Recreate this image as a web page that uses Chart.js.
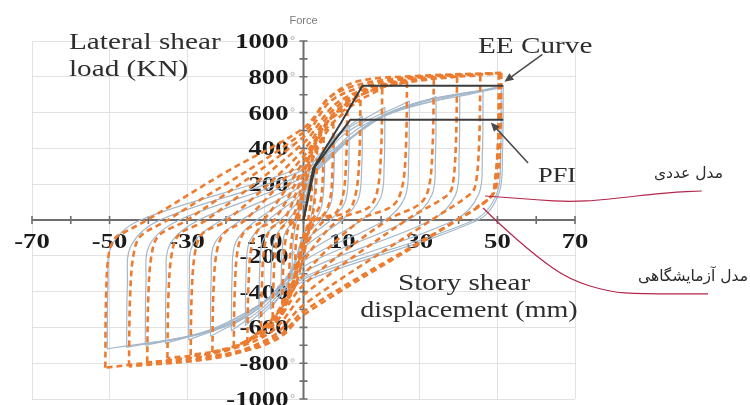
<!DOCTYPE html>
<html>
<head>
<meta charset="utf-8">
<script src="https://cdn.jsdelivr.net/npm/chart.js@4.4.1/dist/chart.umd.min.js"></script>
<style>
  html, body { margin: 0; padding: 0; background: #fff; }
  canvas { display: block; }
</style>
</head>
<body>
<canvas id="chart" width="750" height="405"></canvas>
<script>
// Axis tick labels (drawn on the centred cross axes)
const xTickLabels = [-70, -50, -30, -10, 10, 30, 50, 70];
const yTickLabels = [1000, 800, 600, 400, 200, -200, -400, -600, -800, -1000];
const xMinorTicks = [-70, -60, -50, -40, -30, -20, -10, 0, 10, 20, 30, 40, 50, 60, 70];
const yMinorTicks = [1000, 900, 800, 700, 600, 500, 400, 300, 200, 100, 0, -100, -200, -300, -400,
                     -500, -600, -700, -800, -900, -1000];

// Laboratory specimen: cyclic displacement (mm) vs lateral shear load (kN)
const labCurve = [
  [0,0],[1.2,150],[2.2,250],
  [2.0,120],[1.2,0],[0,-140],[-1.2,-230],[-2.2,-280],
  [-2.0,-140],[-1.2,0],[0,150],[1.5,290],[3.5,400],
  [3.3,220],[2.6,60],[1.8,-20],[0,-200],[-2,-360],[-3.8,-440],
  [-3.6,-250],[-2.9,-80],[-2,0],[0,180],[2.5,350],[5.2,465],
  [5.0,250],[4.3,90],[2.8,20],[1.5,-20],[0,-90],[-2.5,-330],[-5.5,-530],
  [-5.3,-300],[-4.7,-120],[-3.5,-30],[-2,0],[0,150],[3,390],[7.7,545],
  [7.5,300],[6.9,120],[5.2,30],[2.3,-10],[0,-110],[-3,-400],[-8,-605],
  [-7.7,-330],[-7.0,-130],[-5.5,-40],[-3,0],[0,220],[4,460],[11.3,615],
  [11.0,330],[10.2,140],[8.3,40],[3.5,0],[0,-140],[-4,-440],[-11,-655],
  [-10.7,-350],[-10.0,-140],[-8.3,-45],[-5,0],[0,260],[5,520],[14.7,670],
  [14.4,350],[13.5,150],[11.5,50],[5.5,0],[0,-170],[-5,-470],[-14.5,-688],
  [-14.2,-370],[-13.4,-150],[-11.5,-50],[-7.5,0],[0,290],[7,570],[20.3,735],
  [20.0,380],[19.0,160],[16.8,70],[9,0],[0,-230],[-6,-490],[-12,-640],[-18,-710],
  [-17.7,-380],[-16.9,-160],[-15,-60],[-10.3,0],[0,324],[8,590],[16,710],[26.7,772],
  [26.4,400],[25.4,180],[23,80],[14.7,0],[0,-307],[-8,-560],[-16,-690],[-23.5,-737],
  [-23.2,-390],[-22.3,-170],[-20.3,-70],[-15,0],[0,355],[9,620],[20,740],[33.6,790],
  [33.3,420],[32.3,180],[30,90],[21.7,0],[0,-363],[-8,-590],[-18,-710],[-29.1,-755],
  [-28.8,-400],[-27.9,-175],[-26,-75],[-19.6,0],[0,391],[9,640],[22,760],[39.6,800],
  [39.3,430],[38.5,200],[37.2,140],[26.5,0],[0,-419],[-8,-620],[-20,-730],[-35.1,-772],
  [-34.8,-410],[-33.9,-180],[-32,-80],[-25,0],[0,430],[9,660],[24,775],[45.6,808],
  [45.3,440],[44.4,200],[43,145],[33,0],[0,-475],[-8,-650],[-22,-760],[-40.3,-795],
  [-40,-420],[-39.1,-185],[-37.2,-85],[-30,0],[0,464],[8,680],[25,785],[50.4,818],
  [50.2,450],[49.4,220],[48.3,130],[39.5,0],[0,-510],[-6,-640],[-20,-760],[-45,-818],
  [-44.7,-420],[-43.8,-190],[-42,-90],[-35,0],[0,490],[7,690],[20,780],[50.4,820],
  [50.2,450],[49.4,220],[48.3,130],[39.7,0],[0,-530],[-6,-655],[-15,-730],[-34,-782],[-51.1,-825],
  [-50.9,-430],[-50.2,-190],[-48.5,-100],[-45.4,-60],[-40.3,0],[-20,268],[0,514],[7,690],[14,775],[30,805],[51,822],
  [50.8,450],[50.1,230],[48.8,140],[44.5,70]
];

// Numerical model: cyclic displacement (mm) vs lateral shear load (kN)
const numCurve = [
  [0,0],[1.5,180],[3,300],
  [2.7,120],[1.8,0],[0,-150],[-3,-330],
  [-2.7,-130],[-1.8,0],[0,170],[2.5,320],[5.5,400],
  [5.3,200],[4.6,70],[3,0],[0,-80],[-3,-300],[-5.8,-430],
  [-5.6,-210],[-4.9,-80],[-2.5,0],[0,90],[4,340],[8,470],
  [7.8,240],[7,90],[4.5,0],[0,-100],[-4,-350],[-8.5,-500],
  [-8.3,-250],[-7.4,-100],[-4,0],[0,110],[5,380],[11.8,530],
  [11.6,270],[10.7,100],[7,0],[0,-130],[-5,-390],[-11.5,-550],
  [-11.3,-280],[-10.4,-110],[-6,0],[0,140],[6,420],[15.2,580],
  [15,290],[14.1,115],[10,0],[0,-160],[-7,-430],[-15,-590],
  [-14.8,-300],[-13.9,-120],[-9,0],[0,160],[8,450],[21,630],
  [20.8,310],[19.9,125],[15,0],[0,-200],[-9,-460],[-18.6,-620],
  [-18.4,-310],[-17.5,-125],[-12,0],[0,180],[10,470],[27.3,665],
  [27.1,330],[26.2,130],[21,0],[0,-230],[-12,-500],[-24,-650],
  [-23.8,-325],[-22.9,-130],[-16,0],[0,200],[14,510],[34.2,690],
  [34,345],[33.1,140],[27,0],[0,-260],[-14,-530],[-29.6,-670],
  [-29.4,-335],[-28.5,-135],[-21,0],[0,220],[18,550],[40.3,705],
  [40.1,350],[39.2,140],[33,0],[0,-290],[-17,-560],[-35.6,-690],
  [-35.4,-345],[-34.5,-140],[-27,0],[0,240],[20,575],[46.3,720],
  [46.1,360],[45.2,145],[39,0],[0,-320],[-20,-590],[-40.8,-700],
  [-40.6,-350],[-39.7,-140],[-32,0],[0,260],[22,600],[51,740],
  [50.8,370],[49.9,150],[44,0],[0,-330],[-22,-600],[-45.6,-712],
  [-45.4,-355],[-44.5,-145],[-37,0],[0,280],[24,615],[51.5,750],
  [51.3,375],[50.4,150],[45,0],[0,-345],[-25,-620],[-50.6,-720],
  [-50.4,-360],[-49.5,-145],[-42,0],[0,300],[25,625],[50,740]
];

// Idealised envelopes
const eeCurve  = [[0,0],[2.5,290],[9.6,540],[15.2,750],[51.5,750]];
const pfiCurve = [[0,0],[3,300],[12.1,560],[51.5,560]];

// Break a cyclic path into half-cycles at each displacement reversal,
// so the smoothed line does not overshoot the peaks.
function halfCycles(path) {
  const out = [];
  let cur = [path[0]];
  for (let i = 1; i < path.length; i++) {
    cur.push(path[i]);
    if (i < path.length - 1) {
      const a = path[i - 1][0], b = path[i][0], c = path[i + 1][0];
      if ((b > a && b > c) || (b < a && b < c)) {
        out.push(cur);
        cur = [path[i]];
      }
    }
  }
  out.push(cur);
  return out;
}
const toXY = pts => pts.map(p => ({ x: p[0], y: p[1] }));

const datasets = [];
datasets.push({ data: toXY(eeCurve), borderColor: '#3b3b3b', borderWidth: 2, tension: 0 });
datasets.push({ data: toXY(pfiCurve), borderColor: '#3b3b3b', borderWidth: 2, tension: 0 });
halfCycles(labCurve).forEach(seg => datasets.push({
  data: toXY(seg), borderColor: '#ec7c30', borderWidth: 2.6, borderDash: [6, 4], tension: 0.35
}));
halfCycles(numCurve).forEach(seg => datasets.push({
  data: toXY(seg), borderColor: '#a4b8ca', borderWidth: 1.2, tension: 0.35
}));
datasets.forEach(d => { d.showLine = true; d.pointRadius = 0; d.fill = false; });

// Draws stretched serif text the way the figure's labels are set
function stretchedText(ctx, txt, x, y, font, align, sx, color) {
  ctx.save();
  ctx.font = font;
  ctx.fillStyle = color;
  ctx.textAlign = align;
  ctx.textBaseline = 'alphabetic';
  ctx.translate(x, y);
  ctx.scale(sx, 1);
  ctx.fillText(txt, 0, 0);
  ctx.restore();
}

function smoothPath(ctx, pts) {
  ctx.beginPath();
  ctx.moveTo(pts[0][0], pts[0][1]);
  for (let i = 1; i < pts.length - 1; i++) {
    const mx = (pts[i][0] + pts[i + 1][0]) / 2, my = (pts[i][1] + pts[i + 1][1]) / 2;
    ctx.quadraticCurveTo(pts[i][0], pts[i][1], mx, my);
  }
  const last = pts[pts.length - 1];
  ctx.lineTo(last[0], last[1]);
  ctx.stroke();
}

const crossAxes = {
  id: 'crossAxes',
  beforeDatasetsDraw(chart) {
    const { ctx, scales: { x: xs, y: ys } } = chart;
    const x0 = xs.getPixelForValue(0), y0 = ys.getPixelForValue(0);
    ctx.save();
    ctx.strokeStyle = '#6e6e6e';
    ctx.lineWidth = 2;
    ctx.beginPath();
    ctx.moveTo(xs.getPixelForValue(-70), y0);
    ctx.lineTo(xs.getPixelForValue(70), y0);
    ctx.moveTo(x0, ys.getPixelForValue(1000));
    ctx.lineTo(x0, ys.getPixelForValue(-1000));
    ctx.stroke();
    ctx.lineWidth = 1.6;
    ctx.beginPath();
    xMinorTicks.forEach(v => {
      const px = xs.getPixelForValue(v);
      ctx.moveTo(px, y0 - 4); ctx.lineTo(px, y0 + 4);
    });
    yMinorTicks.forEach(v => {
      const py = ys.getPixelForValue(v);
      ctx.moveTo(x0 - 4, py); ctx.lineTo(x0 + 4, py);
    });
    ctx.stroke();

    const tickFont = 'bold 21px "Liberation Serif", "Times New Roman", serif';
    xTickLabels.forEach(v => {
      stretchedText(ctx, String(v), xs.getPixelForValue(v), y0 + 28, tickFont, 'center', 1.27, '#1a1a1a');
    });
    yTickLabels.forEach(v => {
      const py = ys.getPixelForValue(v);
      stretchedText(ctx, String(v), x0 - 15, py + 7, tickFont, 'right', 1.27, '#1a1a1a');
      ctx.beginPath();
      ctx.strokeStyle = '#b4b4b4';
      ctx.lineWidth = 1;
      ctx.arc(x0 - 11, py - 3, 1.6, 0, Math.PI * 2);
      ctx.stroke();
    });

    ctx.font = '11px "Liberation Sans", Arial, sans-serif';
    ctx.fillStyle = '#7a7a7a';
    ctx.textAlign = 'center';
    ctx.fillText('Force', x0, 24);
    ctx.restore();
  },
  afterDatasetsDraw(chart) {
    const { ctx, scales: { x: xs, y: ys } } = chart;
    const P = (d, f) => [xs.getPixelForValue(d), ys.getPixelForValue(f)];
    ctx.save();

    // callout arrows for the two envelopes
    const arrows = [
      [P(61.6, 925), P(51.8, 772)],
      [P(57.9, 318), P(48.3, 545)]
    ];
    ctx.strokeStyle = '#4a4a4a';
    ctx.fillStyle = '#4a4a4a';
    ctx.lineWidth = 1.5;
    arrows.forEach(([a, b]) => {
      const ang = Math.atan2(b[1] - a[1], b[0] - a[0]);
      ctx.beginPath();
      ctx.moveTo(a[0], a[1]);
      ctx.lineTo(b[0] - 6 * Math.cos(ang), b[1] - 6 * Math.sin(ang));
      ctx.stroke();
      ctx.beginPath();
      ctx.moveTo(b[0], b[1]);
      ctx.lineTo(b[0] - 9 * Math.cos(ang) + 4 * Math.sin(ang), b[1] - 9 * Math.sin(ang) - 4 * Math.cos(ang));
      ctx.lineTo(b[0] - 9 * Math.cos(ang) - 4 * Math.sin(ang), b[1] - 9 * Math.sin(ang) + 4 * Math.cos(ang));
      ctx.closePath();
      ctx.fill();
    });

    // leader lines to the two model curves
    ctx.strokeStyle = '#b3274c';
    ctx.lineWidth = 1.2;
    smoothPath(ctx, [P(46.8, 134), P(51.4, 128), P(60.2, 112), P(68.7, 101), P(77.2, 112), P(94.5, 156), P(102.7, 162)]);
    smoothPath(ctx, [P(46.3, 67), P(49.9, -11), P(60.2, -207), P(68.7, -335), P(79, -402), P(86.8, -413), P(104.3, -413)]);

    const serif = '23px "Liberation Serif", "Times New Roman", serif';
    const ink = '#2e2e2e';
    stretchedText(ctx, 'Lateral shear', 69, 49, serif, 'left', 1.27, ink);
    stretchedText(ctx, 'load (KN)', 69, 76, serif, 'left', 1.27, ink);
    stretchedText(ctx, 'EE Curve', 478, 53, serif, 'left', 1.27, ink);
    stretchedText(ctx, 'PFI', 538, 182, '22px "Liberation Serif", "Times New Roman", serif', 'left', 1.2, ink);
    stretchedText(ctx, 'Story shear', 464, 290, serif, 'center', 1.27, ink);
    stretchedText(ctx, 'displacement (mm)', 469, 317, serif, 'center', 1.22, ink);

    ctx.font = '15.5px "DejaVu Sans", sans-serif';
    ctx.fillStyle = '#2a2a2a';
    ctx.textAlign = 'right';
    ctx.direction = 'rtl';
    ctx.fillText('مدل عددی', 723, 178);
    ctx.fillText('مدل آزمایشگاهی', 748, 281);
    ctx.restore();
  }
};

new Chart(document.getElementById('chart'), {
  type: 'scatter',
  data: { datasets },
  options: {
    responsive: false,
    animation: false,
    layout: { padding: { left: 32, right: 175, top: 41, bottom: 6 } },
    plugins: { legend: { display: false }, tooltip: { enabled: false } },
    scales: {
      x: {
        type: 'linear', min: -70, max: 70,
        ticks: { display: false, stepSize: 20 },
        grid: { color: '#e2e2e2', lineWidth: 1, drawTicks: false },
        border: { display: false }
      },
      y: {
        type: 'linear', min: -1000, max: 1000,
        ticks: { display: false, stepSize: 200 },
        grid: { color: '#e2e2e2', lineWidth: 1, drawTicks: false },
        border: { display: false }
      }
    }
  },
  plugins: [crossAxes]
});
</script>
</body>
</html>
